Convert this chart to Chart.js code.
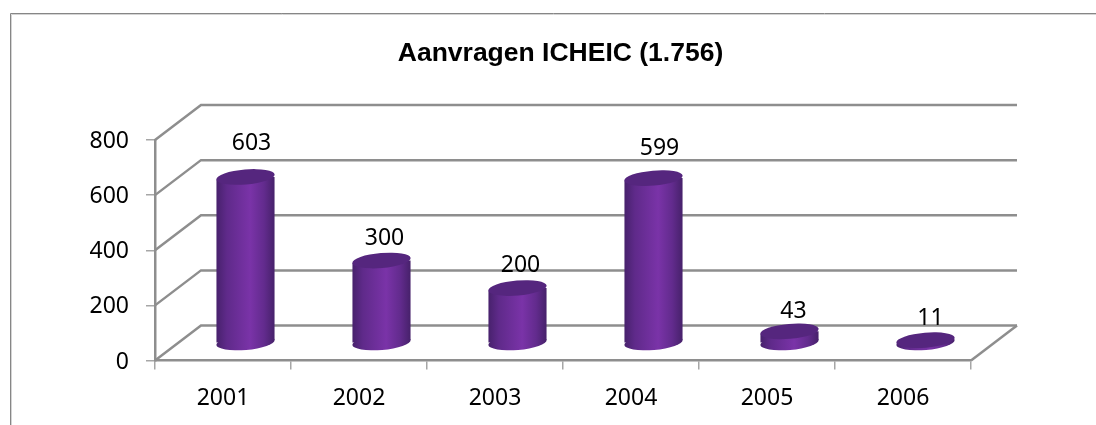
<!DOCTYPE html>
<html>
<head>
<meta charset="utf-8">
<style>html,body{margin:0;padding:0;background:#fff;overflow:hidden}canvas{display:block}</style>
<script src="https://cdn.jsdelivr.net/npm/chart.js@4"></script>
</head>
<body>
<canvas id="c" width="1096" height="425"></canvas>
<script>
const titleText = 'Aanvragen ICHEIC (1.756)';
const categories = ['2001','2002','2003','2004','2005','2006'];
const values = [603,300,200,599,43,11];
const yTicks = [0,200,400,600,800];

const GRID = '#8e8e8e';
const FONT = '"Noto Sans"';
const DEPTH_X = 46, DEPTH_Y = 35;        // 3D wall offset
const MID_X = 22.5, MID_Y = 17.3;        // cylinders stand mid-depth
const RY = 7.5, TILT = -0.085;           // ellipse shape
const BAR_PCT = 0.43;
const labelShift = [[6,-34],[3,-22],[3,-23],[6,-30],[4,-19.5],[5,-21.5]];

function bodyGradient(ctx, xc, w){
  const g = ctx.createLinearGradient(xc-w/2,0,xc+w/2,0);
  g.addColorStop(0,'#47216c');
  g.addColorStop(0.18,'#5f2a8a');
  g.addColorStop(0.58,'#7a33a8');
  g.addColorStop(0.82,'#622b8d');
  g.addColorStop(1,'#46216a');
  return g;
}

const scene = {
  id:'scene',
  afterLayout(chart){
    const t = chart.titleBlock;
    t.left = 0; t.right = 1121; t.width = 1121;
  },
  beforeDraw(chart){
    const c = chart.ctx;
    c.save();
    c.fillStyle='#fff'; c.fillRect(0,0,chart.width,chart.height);
    c.strokeStyle='#d4d4d4'; c.lineWidth=1;
    c.beginPath(); c.moveTo(11.5,425); c.lineTo(11.5,14.5); c.lineTo(1096,14.5); c.stroke();
    c.strokeStyle='#868686';
    c.beginPath(); c.moveTo(10.5,425); c.lineTo(10.5,13.5); c.lineTo(1096,13.5); c.stroke();
    c.restore();
  },
  beforeDatasetsDraw(chart){
    const c = chart.ctx, y = chart.scales.y, a = chart.chartArea;
    c.save();
    c.strokeStyle = GRID; c.lineWidth = 2.5;
    yTicks.forEach(v=>{
      const p = y.getPixelForValue(v);
      c.beginPath();
      c.moveTo(a.left,p);
      c.lineTo(a.left+DEPTH_X,p-DEPTH_Y);
      c.lineTo(a.right+DEPTH_X,p-DEPTH_Y);
      c.stroke();
    });
    const p0 = y.getPixelForValue(0);
    c.beginPath();
    c.moveTo(a.right,p0);
    c.lineTo(a.right+DEPTH_X,p0-DEPTH_Y);
    c.stroke();
    c.restore();
  },
  beforeDatasetDraw(chart,args){
    const c = chart.ctx, els = chart.getDatasetMeta(args.index).data;
    c.save();
    c.translate(MID_X,-MID_Y);
    els.forEach(e=>{
      c.fillStyle = bodyGradient(c,e.x,e.width);
      c.beginPath();
      c.ellipse(e.x,e.base,e.width/2,RY,TILT,0,Math.PI*2);
      c.fill();
    });
    c.save();
    c.beginPath();
    els.forEach(e=>{
      const l=e.x-e.width/2, r=e.x+e.width/2, d=Math.sin(-TILT)*e.width/2;
      c.moveTo(l,e.y+d); c.lineTo(r,e.y-d); c.lineTo(r,e.base-d); c.lineTo(l,e.base+d); c.closePath();
    });
    c.clip();
  },
  afterDatasetDraw(chart,args){
    const c = chart.ctx, els = chart.getDatasetMeta(args.index).data;
    c.restore();
    els.forEach(e=>{
      c.fillStyle = '#55267e';
      c.beginPath();
      c.ellipse(e.x,e.y,e.width/2,RY,TILT,0,Math.PI*2);
      c.fill();
    });
    c.restore();
  },
  afterDatasetsDraw(chart){
    const c = chart.ctx, els = chart.getDatasetMeta(0).data;
    c.save();
    c.font = '23px '+FONT;
    c.fillStyle = '#000';
    c.textAlign='center'; c.textBaseline='middle';
    els.forEach((e,i)=>{
      c.fillText(String(values[i]), e.x+MID_X+labelShift[i][0], e.y-MID_Y+labelShift[i][1]);
    });
    c.restore();
  }
};

new Chart(document.getElementById('c'),{
  type:'bar',
  data:{labels:categories,datasets:[{
    data:values,
    barPercentage:BAR_PCT,
    categoryPercentage:1,
    borderWidth:0,
    clip:false,
    backgroundColor(ctx){
      if(ctx.dataIndex===undefined || !ctx.chart.chartArea) return '#6a2d96';
      const x = ctx.chart.scales.x;
      const band = ctx.chart.chartArea.width/categories.length;
      return bodyGradient(ctx.chart.ctx, x.getPixelForValue(ctx.dataIndex), band*BAR_PCT);
    }
  }]},
  plugins:[scene],
  options:{
    responsive:false,
    animation:false,
    events:[],
    layout:{padding:{left:0,right:125,top:0,bottom:0}},
    plugins:{
      legend:{display:false},
      tooltip:{enabled:false},
      title:{display:true,text:titleText,color:'#000',
        font:{family:'"Liberation Sans"',size:26.5,weight:'bold',lineHeight:1.2},
        padding:{top:38,bottom:70.2}}
    },
    scales:{
      x:{
        afterFit(s){s.height=64.5;},
        grid:{offset:true,drawOnChartArea:false,color:'#a6a6a6',tickLength:9,lineWidth:1.5},
        border:{color:GRID,width:2.5},
        ticks:{color:'#000',padding:15,maxRotation:0,font:{family:FONT,size:23}}
      },
      y:{
        min:0,max:800,
        afterFit(s){s.width=155;},
        grid:{drawOnChartArea:false,color:'#a6a6a6',tickLength:9,lineWidth:1.5},
        border:{color:GRID,width:2.5},
        ticks:{stepSize:200,color:'#000',padding:17,labelOffset:1.5,font:{family:FONT,size:23}}
      }
    }
  }
});
</script>
</body>
</html>
